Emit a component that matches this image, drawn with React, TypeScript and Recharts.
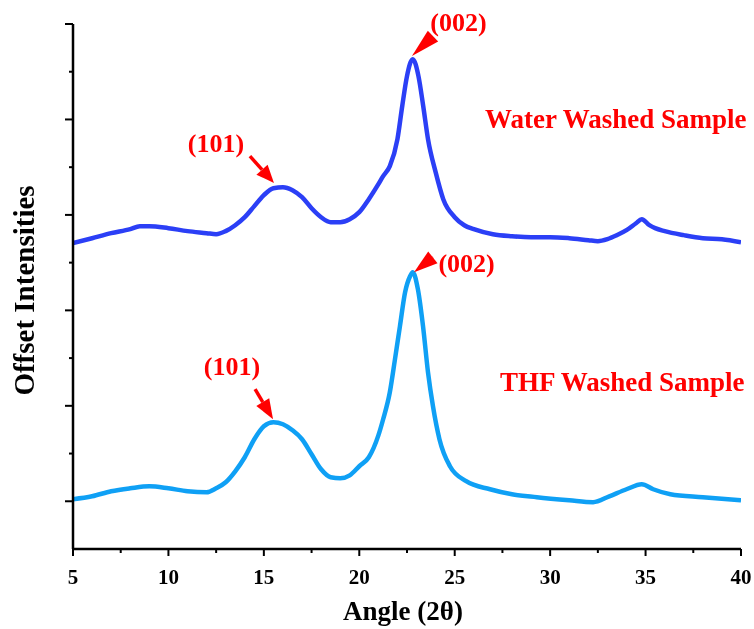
import { Label, Line, LineChart, ReferenceDot, ReferenceLine, XAxis, YAxis } from "recharts"

const FONT = '"Liberation Serif", "Times New Roman", serif'

// Water washed sample (upper trace)
const waterAngle = [
  5, 6, 7, 8, 8.5, 9, 10, 11, 12, 12.5, 13, 13.5, 14, 14.5, 15, 15.5, 16, 16.5, 17, 17.5,
  18, 18.5, 19, 19.5, 20, 20.5, 21, 21.25, 21.6, 22, 22.25, 22.5, 22.8, 23.1, 23.35, 23.6,
  24, 24.4, 25, 25.5, 26, 27, 28, 29, 30, 31, 32, 32.5, 33, 33.5, 34, 34.5, 34.8, 35.2, 35.5,
  36, 37, 38, 39, 40,
]
const waterIntensity = [
  2704, 2756, 2809, 2851, 2882, 2882, 2861, 2830, 2809, 2798, 2830, 2892, 2976, 3092, 3207,
  3280, 3291, 3259, 3186, 3070, 2976, 2924, 2924, 2955, 3029, 3165, 3322, 3406, 3511, 3794,
  4140, 4454, 4632, 4454, 4140, 3794, 3448, 3165, 2976, 2892, 2851, 2798, 2777, 2767, 2767,
  2756, 2735, 2725, 2746, 2788, 2840, 2913, 2955, 2892, 2861, 2830, 2788, 2756, 2746, 2714,
]

// THF washed sample (lower trace)
const thfAngle = [
  5, 6, 7, 8, 9, 10, 11, 12, 12.5, 13, 13.5, 14, 14.5, 15, 15.5, 16, 16.5, 17, 17.5, 18, 18.5,
  19, 19.5, 20, 20.5, 21, 21.25, 21.6, 21.87, 22.13, 22.4, 22.66, 22.8, 23.07, 23.34, 23.6,
  23.86, 24.2, 24.75, 25.6, 26.85, 28, 29.3, 31, 32.25, 33.1, 34, 34.8, 35.4, 36.3, 38, 40,
]
const thfIntensity = [
  21, 52, 105, 136, 157, 136, 105, 94, 136, 199, 314, 461, 650, 786, 828, 807, 744, 650, 493,
  335, 252, 241, 272, 367, 461, 690, 859, 1142, 1488, 1834, 2190, 2358, 2400, 2222, 1834, 1352,
  996, 650, 367, 210, 126, 73, 42, 10, -10, 52, 126, 178, 126, 73, 42, 10,
]

const angleTicks = [5, 7.5, 10, 12.5, 15, 17.5, 20, 22.5, 25, 27.5, 30, 32.5, 35, 37.5, 40]
const intensityTicks = [0, 500, 1000, 1500, 2000, 2500, 3000, 3500, 4000, 4500, 5000]

// peak labels: [text, angle, intensity]
const peakLabels: [string, number, number][] = [
  ["(101)", 12.49, 3658],
  ["(002)", 25.2, 4926],
  ["(101)", 13.33, 1320],
  ["(002)", 25.62, 2400],
]
// sample names: [text, angle, intensity] (left aligned)
const sampleLabels: [string, number, number][] = [
  ["Water Washed Sample", 26.59, 3909],
  ["THF Washed Sample", 27.37, 1153],
]
// arrows: tail angle, tail intensity, tip angle, tip intensity, head length
const arrows: [number, number, number, number, number][] = [
  [14.27, 3616, 15.53, 3333, 18],
  [23.86, 4873, 22.76, 4664, 29],
  [23.86, 2557, 22.87, 2400, 24],
  [14.54, 1174, 15.48, 859, 20],
]

const waterData = waterAngle.map((a, i) => ({ angle: a, value: waterIntensity[i] }))
const thfData = thfAngle.map((a, i) => ({ angle: a, value: thfIntensity[i] }))

function AngleTick({ x, y, payload }: any) {
  const major = payload.value % 5 === 0
  return (
    <g>
      <line x1={x} y1={y} x2={x} y2={y + (major ? 7 : 4)} stroke="#000" strokeWidth={2} />
      {major && (
        <text x={x} y={y + 35} textAnchor="middle" fontFamily={FONT} fontWeight="bold" fontSize={21} fill="#000">
          {payload.value}
        </text>
      )}
    </g>
  )
}

function IntensityTick({ x, y, payload }: any) {
  const major = payload.value % 1000 === 0
  return <line x1={x - (major ? 8 : 4)} y1={y} x2={x} y2={y} stroke="#000" strokeWidth={2} />
}

function arrowShape(headLen: number) {
  return (props: any) => {
    const { x1, y1, x2, y2 } = props
    const dx = x2 - x1
    const dy = y2 - y1
    const len = Math.hypot(dx, dy)
    const ux = dx / len
    const uy = dy / len
    const bx = x2 - ux * headLen
    const by = y2 - uy * headLen
    const px = -uy * 7.5
    const py = ux * 7.5
    return (
      <g>
        {len > headLen && <line x1={x1} y1={y1} x2={bx} y2={by} stroke="#ff0000" strokeWidth={3.5} />}
        <polygon points={`${x2},${y2} ${bx + px},${by + py} ${bx - px},${by - py}`} fill="#ff0000" />
      </g>
    )
  }
}

function textShape(text: string, anchor: "start" | "middle", size: number) {
  return (props: any) => (
    <text x={props.cx} y={props.cy} textAnchor={anchor} fontFamily={FONT} fontWeight="bold" fontSize={size} fill="#ff0000">
      {text}
    </text>
  )
}

export default function App() {
  return (
    <div style={{ position: "fixed", left: 8, top: 8 }}>
      <LineChart width={746} height={621} margin={{ top: 16, right: 13, left: 0, bottom: 0 }}>
        <XAxis
          type="number"
          dataKey="angle"
          domain={[5, 40]}
          ticks={angleTicks}
          allowDataOverflow
          height={80}
          tickSize={0}
          tickMargin={0}
          tickLine={false}
          axisLine={{ stroke: "#000", strokeWidth: 2.5 }}
          tick={AngleTick}
        >
          <Label
            content={({ viewBox }: any) => (
              <text x={viewBox.x + viewBox.width / 2 - 4} y={viewBox.y + 71} textAnchor="middle" fontFamily={FONT} fontWeight="bold" fontSize={27} fill="#000">
                Angle (2θ)
              </text>
            )}
          />
        </XAxis>
        <YAxis
          type="number"
          domain={[-500, 5000]}
          ticks={intensityTicks}
          allowDataOverflow
          width={65}
          tickSize={0}
          tickMargin={0}
          tickLine={false}
          axisLine={{ stroke: "#000", strokeWidth: 2.5 }}
          tick={IntensityTick}
        >
          <Label
            content={({ viewBox }: any) => {
              const cx = 26
              const cy = viewBox.y + viewBox.height / 2 + 4
              return (
                <text x={cx} y={cy} transform={`rotate(-90, ${cx}, ${cy})`} textAnchor="middle" fontFamily={FONT} fontWeight="bold" fontSize={29} fill="#000">
                  Offset Intensities
                </text>
              )
            }}
          />
        </YAxis>
        <Line data={waterData} dataKey="value" type="monotone" stroke="#2b3ff6" strokeWidth={4.5} dot={false} isAnimationActive={false} />
        <Line data={thfData} dataKey="value" type="monotone" stroke="#0fa0f5" strokeWidth={4.5} dot={false} isAnimationActive={false} />
        {arrows.map(([ax, ay, bx, by, head], i) => (
          <ReferenceLine key={`arrow-${i}`} segment={[{ x: ax, y: ay }, { x: bx, y: by }]} shape={arrowShape(head)} ifOverflow="visible" />
        ))}
        {peakLabels.map(([text, x, y], i) => (
          <ReferenceDot key={`peak-${i}`} x={x} y={y} r={0} ifOverflow="visible" shape={textShape(text, "middle", 26)} />
        ))}
        {sampleLabels.map(([text, x, y], i) => (
          <ReferenceDot key={`sample-${i}`} x={x} y={y} r={0} ifOverflow="visible" shape={textShape(text, "start", 27)} />
        ))}
      </LineChart>
    </div>
  )
}
